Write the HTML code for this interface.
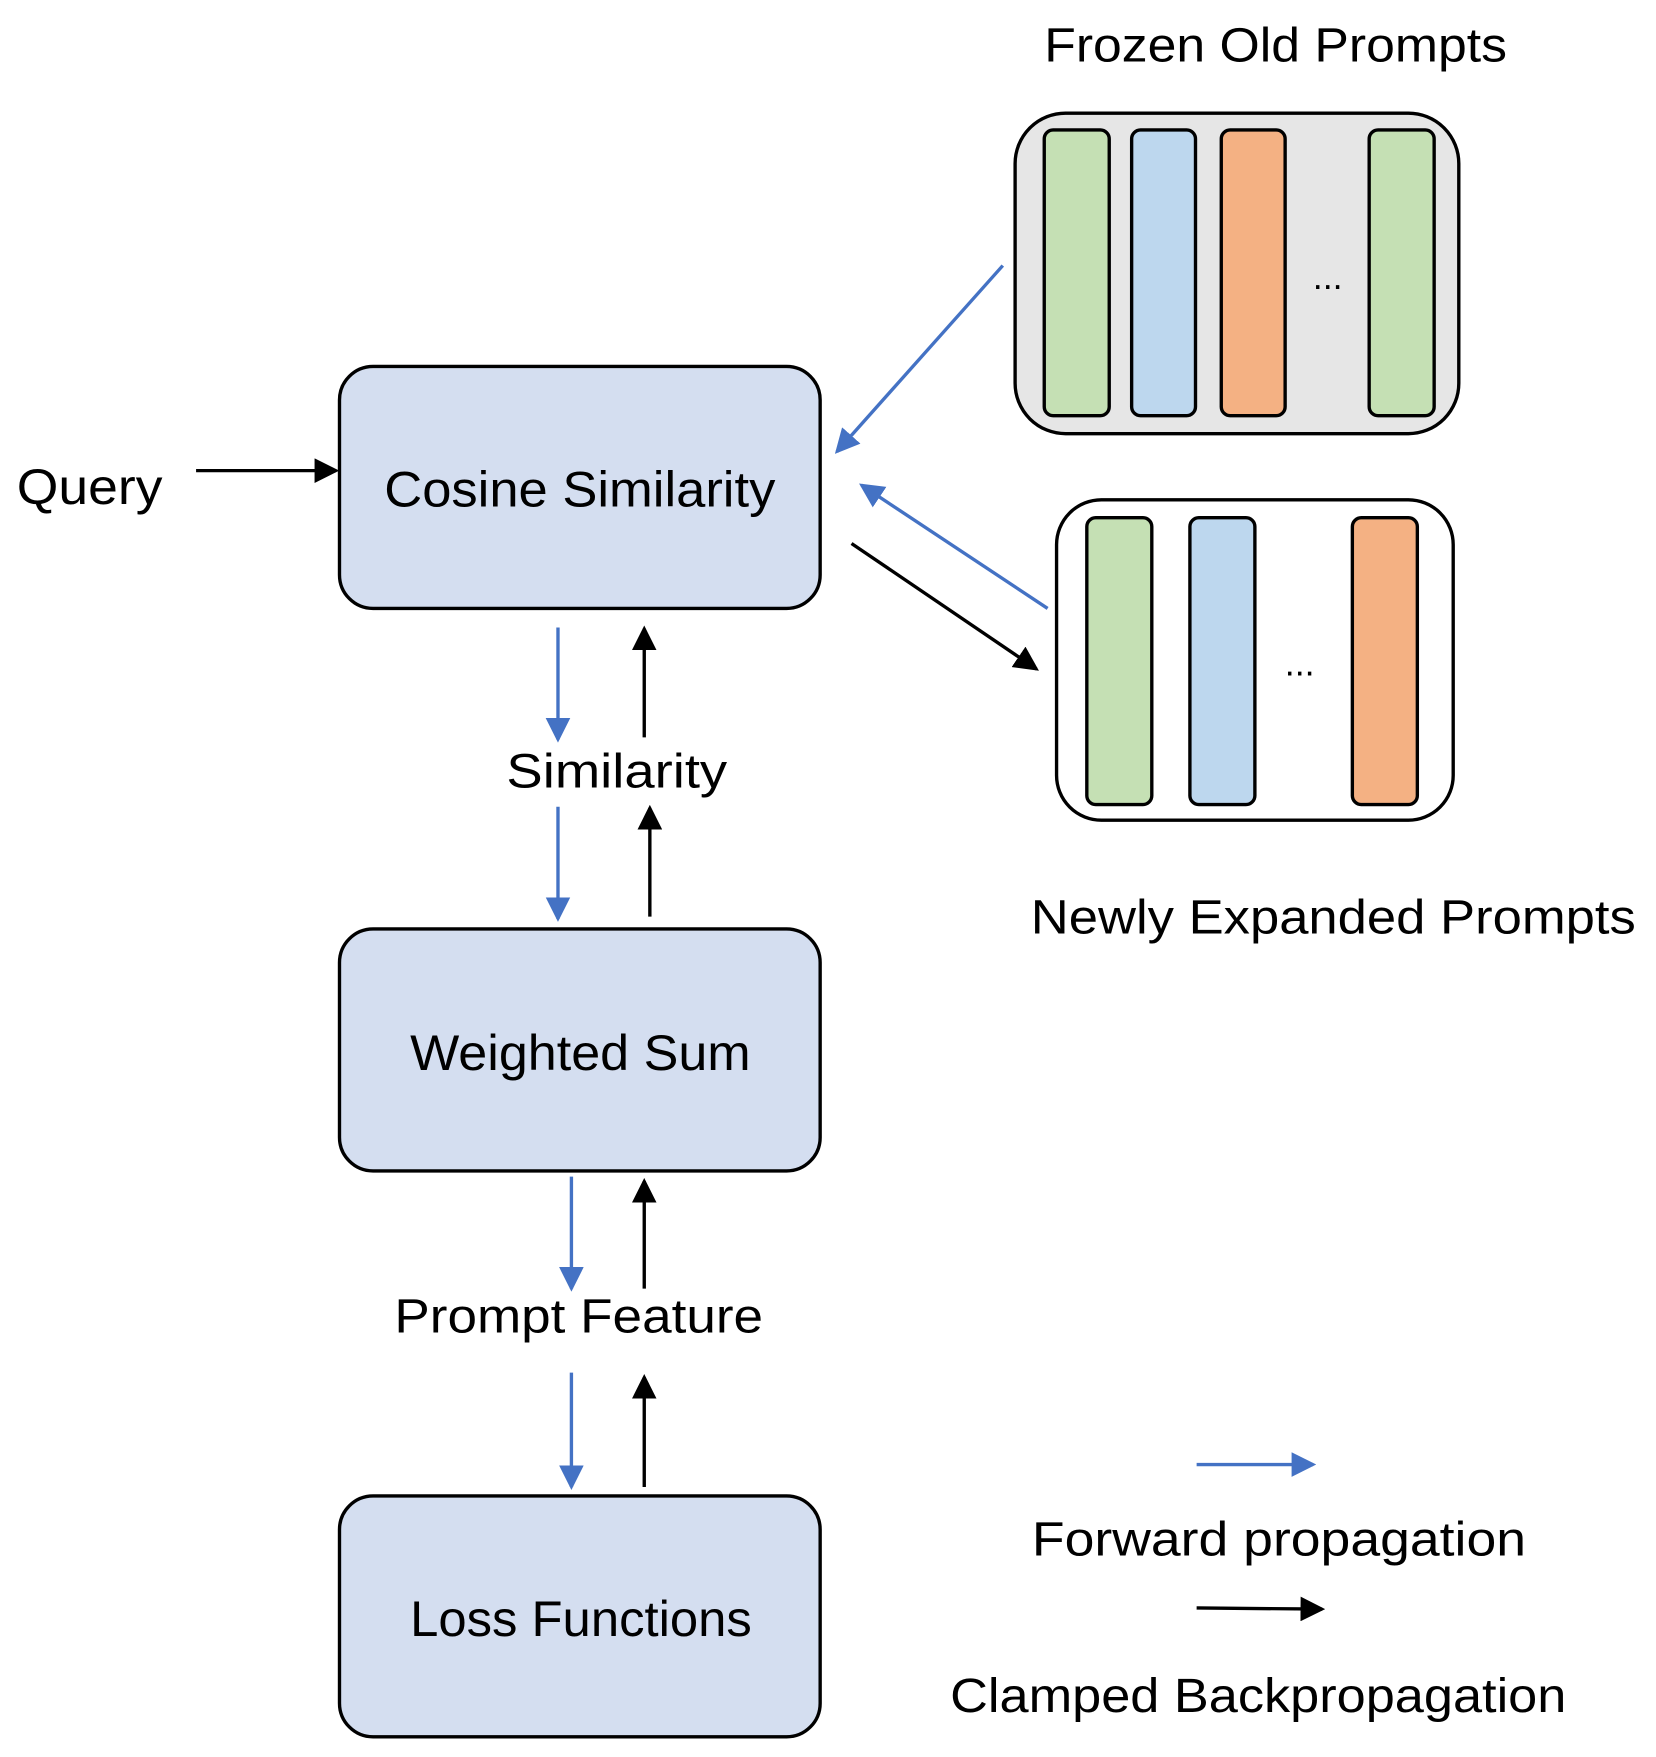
<!DOCTYPE html>
<html><head><meta charset="utf-8"><style>
html,body{margin:0;padding:0;background:#fff;}
svg{display:block;}
text{font-family:"Liberation Sans",sans-serif;fill:#000;}
</style></head><body>
<svg width="1656" height="1757" viewBox="0 0 1478 1568" preserveAspectRatio="none" xmlns="http://www.w3.org/2000/svg">
<defs>
<marker id="ab" markerWidth="22" markerHeight="22" refX="7" refY="4" orient="auto" markerUnits="userSpaceOnUse" viewBox="0 0 8 8"><path d="M0,0 L8,4 L0,8 z" fill="#4472c4"/></marker>
<marker id="ak" markerWidth="22" markerHeight="22" refX="7" refY="4" orient="auto" markerUnits="userSpaceOnUse" viewBox="0 0 8 8"><path d="M0,0 L8,4 L0,8 z" fill="#000"/></marker>
</defs>
<style>
.b{stroke:#4472c4;stroke-width:3;fill:none;}
.k{stroke:#000;stroke-width:3;fill:none;}
</style>
<rect x="303" y="327" width="429" height="216" rx="30" fill="#d4def0" stroke="#000" stroke-width="3"/>
<rect x="303" y="829" width="429" height="216" rx="30" fill="#d4def0" stroke="#000" stroke-width="3"/>
<rect x="303" y="1335" width="429" height="215" rx="30" fill="#d4def0" stroke="#000" stroke-width="3"/>
<text x="343" y="452" font-size="45" textLength="349" lengthAdjust="spacingAndGlyphs">Cosine Similarity</text>
<text x="366" y="955" font-size="45" textLength="304" lengthAdjust="spacingAndGlyphs">Weighted Sum</text>
<text x="366" y="1460" font-size="45" textLength="305" lengthAdjust="spacingAndGlyphs">Loss Functions</text>
<text x="15" y="450" font-size="45" textLength="130" lengthAdjust="spacingAndGlyphs">Query</text>
<line x1="175" y1="420" x2="300" y2="420" class="k" marker-end="url(#ak)"/>
<text x="932" y="55" font-size="43" textLength="413" lengthAdjust="spacingAndGlyphs">Frozen Old Prompts</text>
<rect x="906" y="101" width="396" height="286" rx="45" fill="#e6e6e6" stroke="#000" stroke-width="3"/>
<rect x="932" y="116" width="58" height="255" rx="8" fill="#c5e0b4" stroke="#000" stroke-width="3"/>
<rect x="1010" y="116" width="57" height="255" rx="8" fill="#bdd7ee" stroke="#000" stroke-width="3"/>
<rect x="1090" y="116" width="57" height="255" rx="8" fill="#f4b183" stroke="#000" stroke-width="3"/>
<rect x="1222" y="116" width="58" height="255" rx="8" fill="#c5e0b4" stroke="#000" stroke-width="3"/>
<text x="1185" y="258" font-size="32" text-anchor="middle">...</text>
<rect x="943" y="446" width="354" height="286" rx="40" fill="#fff" stroke="#000" stroke-width="3"/>
<rect x="970" y="462" width="58" height="256" rx="8" fill="#c5e0b4" stroke="#000" stroke-width="3"/>
<rect x="1062" y="462" width="58" height="256" rx="8" fill="#bdd7ee" stroke="#000" stroke-width="3"/>
<rect x="1207" y="462" width="58" height="256" rx="8" fill="#f4b183" stroke="#000" stroke-width="3"/>
<text x="1160" y="603" font-size="32" text-anchor="middle">...</text>
<text x="920" y="833" font-size="43" textLength="540" lengthAdjust="spacingAndGlyphs">Newly Expanded Prompts</text>
<line x1="895" y1="237" x2="747" y2="403" class="b" marker-end="url(#ab)"/>
<line x1="935" y1="543" x2="769" y2="433" class="b" marker-end="url(#ab)"/>
<line x1="760" y1="485" x2="925" y2="597" class="k" marker-end="url(#ak)"/>
<line x1="498" y1="560" x2="498" y2="660" class="b" marker-end="url(#ab)"/>
<line x1="575" y1="658" x2="575" y2="561" class="k" marker-end="url(#ak)"/>
<text x="452" y="703" font-size="43" textLength="197" lengthAdjust="spacingAndGlyphs">Similarity</text>
<line x1="498" y1="720" x2="498" y2="820" class="b" marker-end="url(#ab)"/>
<line x1="580" y1="818" x2="580" y2="721" class="k" marker-end="url(#ak)"/>
<line x1="510" y1="1050" x2="510" y2="1150" class="b" marker-end="url(#ab)"/>
<line x1="575" y1="1150" x2="575" y2="1054" class="k" marker-end="url(#ak)"/>
<text x="352" y="1189" font-size="43" textLength="329" lengthAdjust="spacingAndGlyphs">Prompt Feature</text>
<line x1="510" y1="1225" x2="510" y2="1327" class="b" marker-end="url(#ab)"/>
<line x1="575" y1="1327" x2="575" y2="1229" class="k" marker-end="url(#ak)"/>
<line x1="1068" y1="1307" x2="1172" y2="1307" class="b" marker-end="url(#ab)"/>
<text x="921" y="1388" font-size="43" textLength="441" lengthAdjust="spacingAndGlyphs">Forward propagation</text>
<line x1="1068" y1="1435" x2="1180" y2="1436" class="k" marker-end="url(#ak)"/>
<text x="848" y="1528" font-size="43" textLength="550" lengthAdjust="spacingAndGlyphs">Clamped Backpropagation</text>
</svg>
</body></html>
